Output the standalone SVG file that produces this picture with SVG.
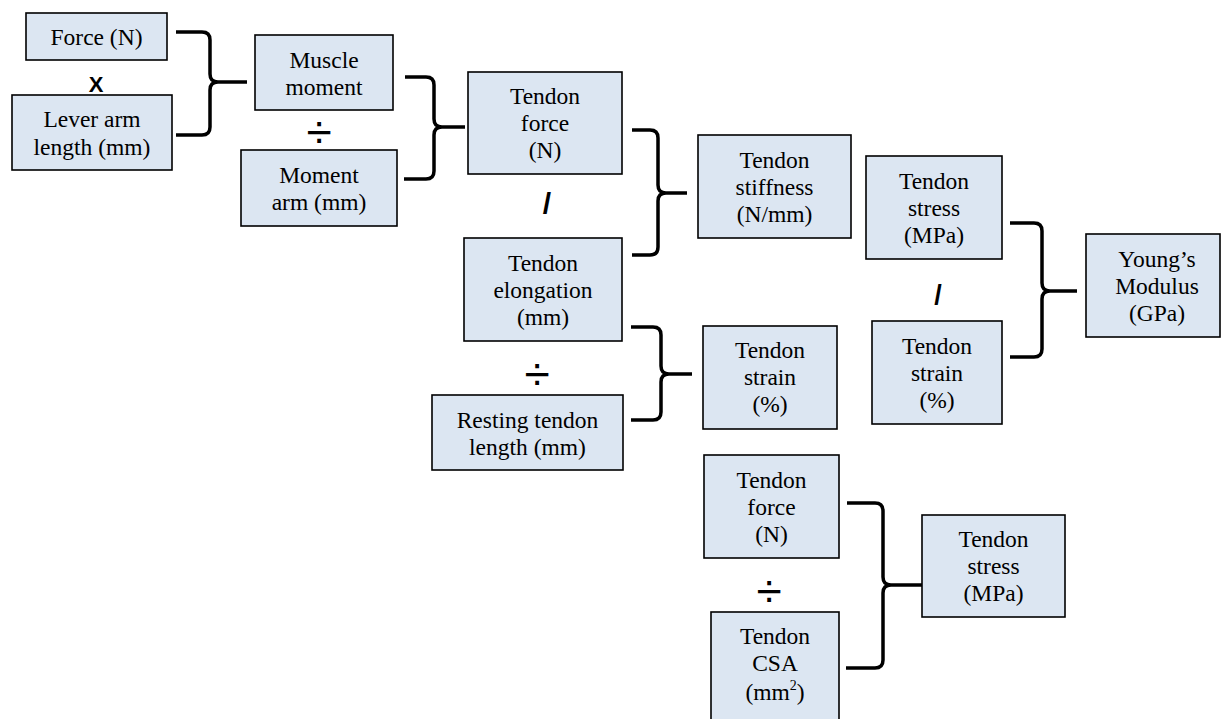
<svg xmlns="http://www.w3.org/2000/svg" width="1221" height="719" viewBox="0 0 1221 719">
<style>
.box{fill:#DCE6F2;stroke:#000;stroke-width:1.6}
.t{font-size:23.5px;fill:#000;text-anchor:middle}
.br{fill:none;stroke:#000;stroke-width:3.5;stroke-linejoin:round;stroke-linecap:butt}
.op{fill:#000;text-anchor:middle}
</style>
<rect width="1221" height="719" fill="#fff"/>
<g id="connectors">
<path class="br" d="M176,32 H202 Q210,32 210,40 V74 Q210,82 218,82 H247 M176,135 H202 Q210,135 210,127 V90 Q210,82 218,82"/>
<path class="br" d="M405,77 H426 Q434,77 434,85 V119 Q434,127 442,127 H465 M404,179 H426 Q434,179 434,171 V135 Q434,127 442,127"/>
<path class="br" d="M632,130 H650 Q658,130 658,138 V185 Q658,193 666,193 H687 M632,255 H650 Q658,255 658,247 V201 Q658,193 666,193"/>
<path class="br" d="M1010,223 H1034 Q1042,223 1042,231 V283 Q1042,291 1050,291 H1077 M1010,357 H1034 Q1042,357 1042,349 V299 Q1042,291 1050,291"/>
<path class="br" d="M631,327 H653 Q661,327 661,335 V366 Q661,374 669,374 H692 M631,420 H653 Q661,420 661,412 V382 Q661,374 669,374"/>
<path class="br" d="M847,503 H875 Q883,503 883,511 V577 Q883,585 891,585 H922 M846,668 H875 Q883,668 883,660 V593 Q883,585 891,585"/>
</g>
<g id="operators" font-family="Liberation Sans, Arial, sans-serif">
<text class="op" x="96" y="92" font-size="22" font-weight="bold">X</text>
<text class="op" x="319" y="148" font-size="46">÷</text>
<text class="op" x="537" y="390" font-size="46">÷</text>
<text class="op" x="769" y="607" font-size="46">÷</text>
<text class="op" x="547" y="214" font-size="30" font-weight="bold">/</text>
<text class="op" x="938" y="304" font-size="27" font-weight="bold">/</text>
</g>
<g id="nodes" font-family="Liberation Serif, Times New Roman, serif">
<g id="force">
<rect class="box" x="26" y="13" width="141" height="47"/>
<text class="t" x="96.5" y="45">Force (N)</text>
</g>
<g id="lever-arm">
<rect class="box" x="12" y="95" width="160" height="75"/>
<text class="t" x="92" y="127">Lever arm</text>
<text class="t" x="92" y="155">length (mm)</text>
</g>
<g id="muscle-moment">
<rect class="box" x="255" y="35" width="138" height="75"/>
<text class="t" x="324" y="68">Muscle</text>
<text class="t" x="324" y="95">moment</text>
</g>
<g id="moment-arm">
<rect class="box" x="241" y="150" width="156" height="76"/>
<text class="t" x="319" y="183">Moment</text>
<text class="t" x="319" y="210">arm (mm)</text>
</g>
<g id="tendon-force">
<rect class="box" x="468" y="72" width="154" height="102"/>
<text class="t" x="545" y="104">Tendon</text>
<text class="t" x="545" y="131">force</text>
<text class="t" x="545" y="158">(N)</text>
</g>
<g id="tendon-elongation">
<rect class="box" x="464" y="238" width="158" height="103"/>
<text class="t" x="543" y="271">Tendon</text>
<text class="t" x="543" y="298">elongation</text>
<text class="t" x="543" y="325">(mm)</text>
</g>
<g id="resting-length">
<rect class="box" x="432" y="395" width="191" height="75"/>
<text class="t" x="527.5" y="428">Resting tendon</text>
<text class="t" x="527.5" y="455">length (mm)</text>
</g>
<g id="tendon-stiffness">
<rect class="box" x="698" y="135" width="153" height="103"/>
<text class="t" x="774.5" y="168">Tendon</text>
<text class="t" x="774.5" y="195">stiffness</text>
<text class="t" x="774.5" y="222">(N/mm)</text>
</g>
<g id="tendon-strain-1">
<rect class="box" x="703" y="326" width="134" height="103"/>
<text class="t" x="770" y="358">Tendon</text>
<text class="t" x="770" y="385">strain</text>
<text class="t" x="770" y="412">(%)</text>
</g>
<g id="tendon-stress-1">
<rect class="box" x="866" y="156" width="136" height="103"/>
<text class="t" x="934" y="189">Tendon</text>
<text class="t" x="934" y="216">stress</text>
<text class="t" x="934" y="243">(MPa)</text>
</g>
<g id="tendon-strain-2">
<rect class="box" x="872" y="321" width="130" height="103"/>
<text class="t" x="937" y="354">Tendon</text>
<text class="t" x="937" y="381">strain</text>
<text class="t" x="937" y="408">(%)</text>
</g>
<g id="youngs-modulus">
<rect class="box" x="1086" y="234" width="134" height="103"/>
<text class="t" x="1157" y="267">Young’s</text>
<text class="t" x="1157" y="294">Modulus</text>
<text class="t" x="1157" y="321">(GPa)</text>
</g>
<g id="tendon-force-2">
<rect class="box" x="704" y="455" width="135" height="103"/>
<text class="t" x="771.5" y="488">Tendon</text>
<text class="t" x="771.5" y="515">force</text>
<text class="t" x="771.5" y="542">(N)</text>
</g>
<g id="tendon-csa">
<rect class="box" x="711" y="612" width="128" height="120"/>
<text class="t" x="775" y="644">Tendon</text>
<text class="t" x="775" y="671">CSA</text>
<text class="t" x="775" y="700">(mm<tspan font-size="14" dy="-10">2</tspan><tspan dy="10">)</tspan></text>
</g>
<g id="tendon-stress-2">
<rect class="box" x="922" y="515" width="143" height="102"/>
<text class="t" x="993.5" y="547">Tendon</text>
<text class="t" x="993.5" y="574">stress</text>
<text class="t" x="993.5" y="601">(MPa)</text>
</g>
</g>
</svg>
